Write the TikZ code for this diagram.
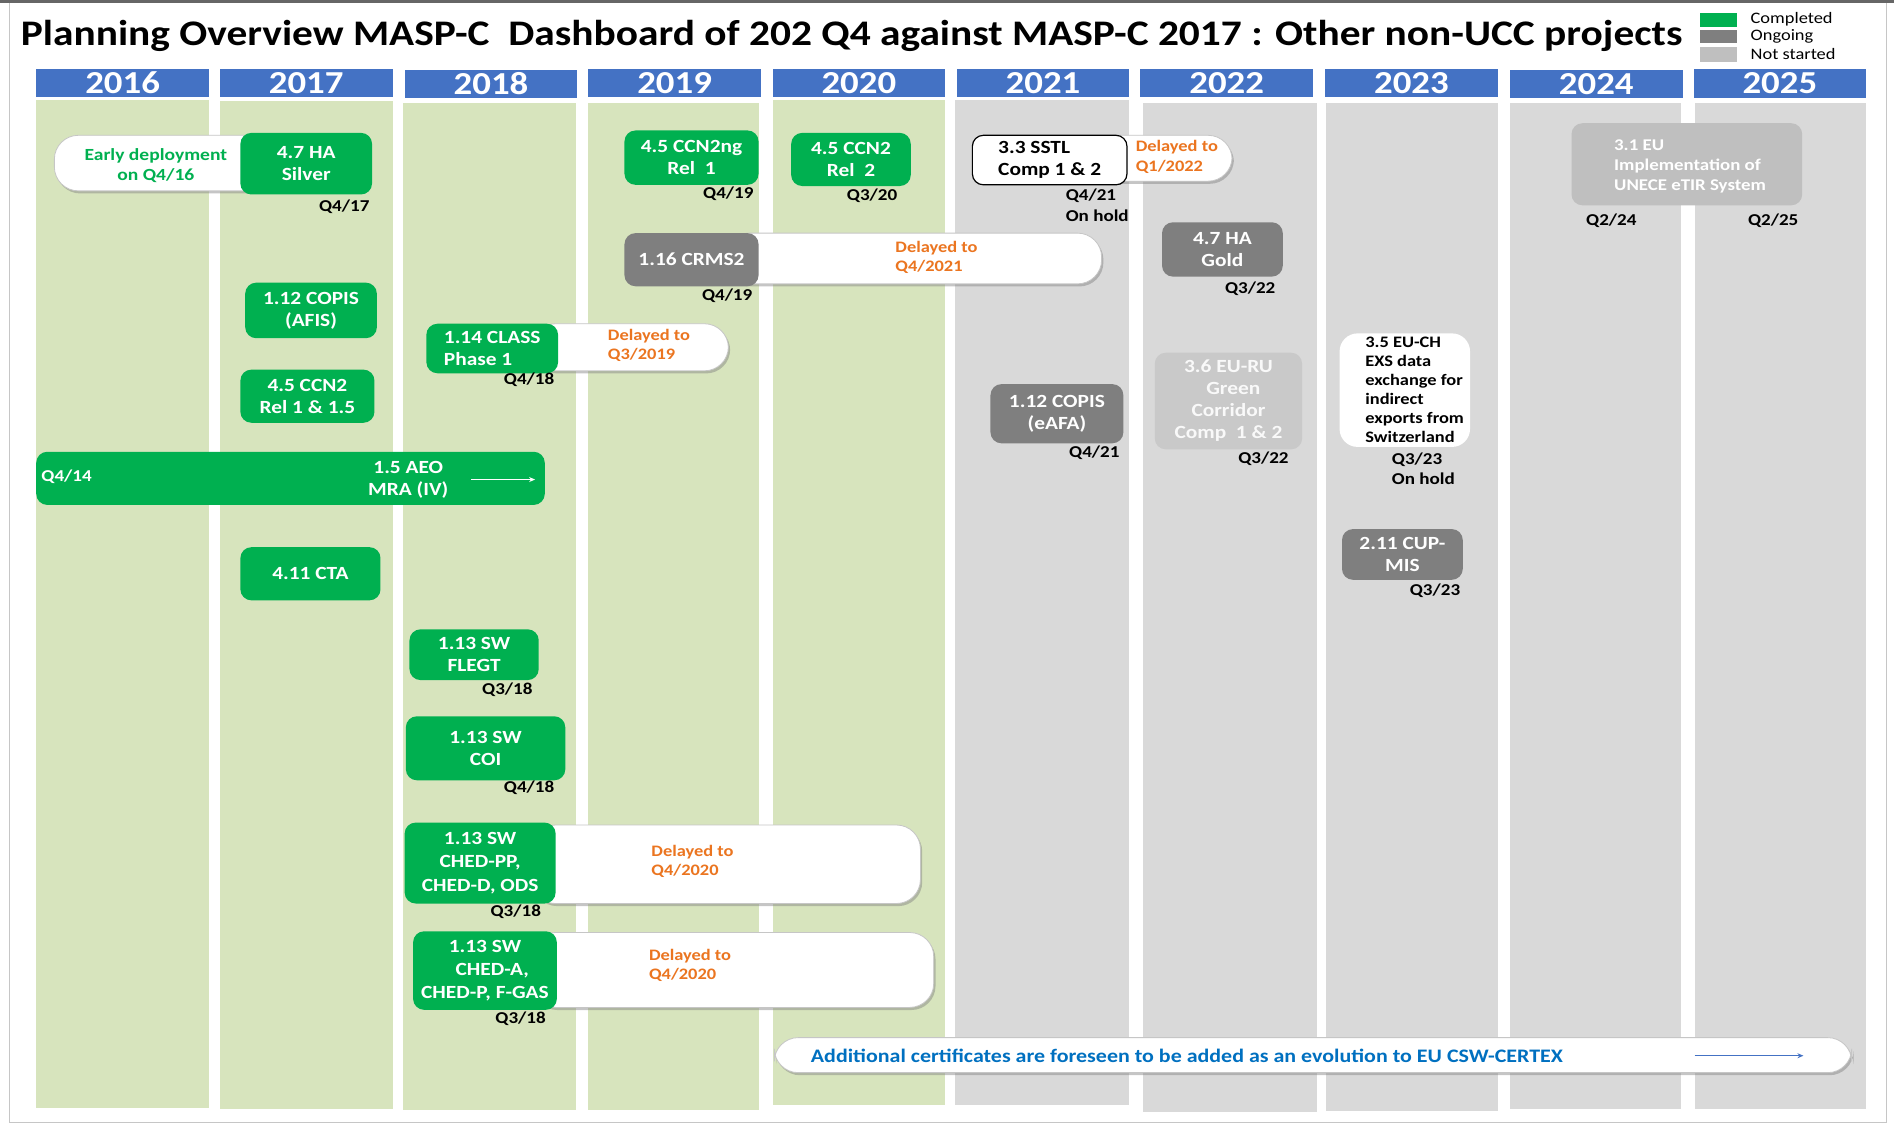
\documentclass[tikz,border=0pt]{standalone}
\usepackage{fontspec}
\setmainfont{Carlito}[FakeStretch=1.15]
\usetikzlibrary{shadows,arrows.meta}
\definecolor{cgreen}{HTML}{00B050}
\definecolor{cdark}{HTML}{7F7F7F}
\definecolor{clight}{HTML}{BFBFBF}
\definecolor{cru}{HTML}{C9C9C9}
\definecolor{colg}{HTML}{D7E4BD}
\definecolor{colgray}{HTML}{D9D9D9}
\definecolor{hblue}{HTML}{4472C4}
\definecolor{corange}{HTML}{EB7520}
\definecolor{tblue}{HTML}{0070C0}
\newcommand\bx[7]{\node[#6, minimum width={(#4-#2)*0.604pt}, minimum height={(#5-#3)*0.604pt}] (#1) at ({(#2+#4)/2},{(#3+#5)/2}) {#7};}
\tikzset{
  base/.style={inner sep=0pt, outer sep=0pt, align=center},
  hdr/.style={base, fill=hblue, text=white, font=\fontsize{16}{18}\selectfont\bfseries},
  done/.style={base, fill=cgreen, text=white, rounded corners=5.5pt, font=\fontsize{9.3}{10.9}\selectfont\bfseries},
  ongo/.style={done, fill=cdark},
  notst/.style={done, fill=clight, text=white},
  pill/.style={base, fill=white, draw=gray!45, line width=0.4pt, rounded corners=12pt,
     drop shadow={shadow xshift=0.9pt, shadow yshift=-1.3pt, opacity=0.45}},
  ql/.style={inner sep=0pt, align=left, font=\fontsize{8.3}{10.3}\selectfont\bfseries},
  dl/.style={inner sep=0pt, anchor=west, align=left, text=corange, font=\fontsize{8}{9.7}\selectfont\bfseries},
  lg/.style={inner sep=0pt, anchor=west, font=\fontsize{8}{9}\selectfont},
}
\begin{document}
\begin{tikzpicture}[x=0.604pt, y=-0.604pt]
\useasboundingbox (0,0) rectangle (1568,932);
\fill[white] (0,0) rectangle (1568,932);
% frame
\draw[gray!45, line width=0.6pt] (8,2) -- (8,929) -- (1562,929) -- (1562,2);
\draw[gray!80!black, line width=1.4pt] (0,1) -- (1568,1);
% column backgrounds
\foreach \a/\b/\c/\d/\col in {30/83/173/917/colg, 182/84/325/918/colg, 334/85/477/919/colg, 487/85/628/919/colg, 640/83/782/915/colg, 791/83/935/915/colgray, 946/85/1090/921/colgray, 1098/85/1240/920/colgray, 1250/85/1392/918/colgray, 1403/85/1545/918/colgray}
  \fill[\col] (\a,\b) rectangle (\c,\d);
% headers
\bx{y16}{30}{57}{173}{80}{hdr}{2016}
\bx{y17}{182}{57}{325}{80}{hdr}{2017}
\bx{y18}{335}{58}{478}{81}{hdr}{2018}
\bx{y19}{487}{57}{630}{80}{hdr}{2019}
\bx{y20}{640}{57}{782}{80}{hdr}{2020}
\bx{y21}{792}{57}{935}{80}{hdr}{2021}
\bx{y22}{944}{57}{1087}{80}{hdr}{2022}
\bx{y23}{1097}{57}{1240}{80}{hdr}{2023}
\bx{y24}{1250}{58}{1393}{81}{hdr}{2024}
\bx{y25}{1402}{57}{1545}{81}{hdr}{2025}
% title
\node[inner sep=0pt, anchor=west, font=\fontsize{18}{20}\selectfont\bfseries] (title) at (17,30) {Planning Overview MASP-C\ \ Dashboard of 202 Q4 against MASP-C 2017 : Other non-UCC projects};
% legend
\bx{lg1}{1407}{11}{1438}{22}{base, fill=cgreen}{}
\bx{lg2}{1407}{25}{1438}{36}{base, fill=cdark}{}
\bx{lg3}{1407}{39}{1438}{51}{base, fill=clight}{}
\node[lg] (lt1) at (1449,16) {Completed};
\node[lg] (lt2) at (1449,30) {Ongoing};
\node[lg] (lt3) at (1449,45) {Not started};
% pills (behind boxes)
\bx{p0}{45}{112}{232}{158}{pill}{}
\bx{p1}{440}{268}{603}{307}{pill}{}
\bx{p2}{440}{683}{762}{748}{pill}{}
\bx{p3}{440}{772}{773}{834}{pill}{}
\bx{p4}{600}{193}{912}{235}{pill}{}
\bx{p5}{905}{112}{1020}{150}{pill}{}
\bx{p6}{641}{859}{1533}{888}{pill}{}
% pill texts
\node[inner sep=0pt, align=center, text=cgreen, font=\fontsize{8.5}{10.3}\selectfont\bfseries] (t0) at (129,137) {Early deployment\\on Q4/16};
\node[dl] (t1) at (503,286) {Delayed to\\Q3/2019};
\node[dl] (t2) at (539,713) {Delayed to\\Q4/2020};
\node[dl] (t3) at (537,799) {Delayed to\\Q4/2020};
\node[dl] (t4) at (741,213) {Delayed to\\Q4/2021};
\node[dl] (t5) at (940,130) {Delayed to\\Q1/2022};
\node[inner sep=0pt, anchor=west, text=tblue, font=\fontsize{9.55}{10.5}\selectfont\bfseries] (t6) at (671,874) {Additional certificates are foreseen to be added as an evolution to EU CSW-CERTEX};
\coordinate (a6s) at (1403,874);
\coordinate (a6e) at (1493,874);
\draw[hblue, line width=0.6pt, -{Stealth[length=3pt,width=2.5pt]}] (a6s) -- (a6e);
% completed boxes
\bx{ha}{199}{110}{308}{161}{done}{4.7 HA\\Silver}
\bx{copis}{203}{234}{312}{280}{done}{1.12 COPIS\\(AFIS)}
\bx{ccn}{199}{306}{310}{350}{done}{4.5 CCN2\\Rel 1 \& 1.5}
\bx{aeo}{30}{374}{451}{418}{done}{}
\node[inner sep=0pt, align=center, text=white, font=\fontsize{9.3}{10.9}\selectfont\bfseries] (aeot) at (338,397) {1.5 AEO\\MRA (IV)};
\node[inner sep=0pt, anchor=west, text=white, font=\fontsize{8.3}{10}\selectfont\bfseries] (aeoq) at (34,395) {Q4/14};
\coordinate (aeos) at (390,397);
\coordinate (aeoe) at (443,397);
\draw[white, line width=0.6pt, -{Stealth[length=3pt,width=2.5pt]}] (aeos) -- (aeoe);
\bx{cta}{199}{453}{315}{497}{done}{4.11 CTA}
\bx{cls}{353}{268}{462}{309}{done, align=left}{1.14 CLASS\\Phase 1}
\bx{flegt}{339}{521}{446}{563}{done}{1.13 SW\\FLEGT}
\bx{coi}{336}{593}{468}{646}{done}{1.13 SW\\COI}
\bx{chedpp}{335}{681}{460}{748}{done, font=\fontsize{9.3}{11.6}\selectfont\bfseries}{1.13 SW\\CHED-PP,\\CHED-D, ODS}
\bx{cheda}{342}{771}{461}{836}{done, font=\fontsize{9.3}{11.6}\selectfont\bfseries}{1.13 SW\\\ \ \ CHED-A,\\CHED-P, F-GAS}
\bx{ccnng}{517}{108}{628}{153}{done}{4.5 CCN2ng\\Rel\ \ 1}
\bx{ccn2}{655}{110}{754}{154}{done}{4.5 CCN2\\Rel\ \ 2}
% ongoing
\bx{crms}{517}{193}{628}{237}{ongo}{1.16 CRMS2}
\bx{sstl}{805}{112}{933}{153}{done, fill=white, draw=black, line width=0.6pt, text=black, align=left}{3.3 SSTL\\Comp 1 \& 2}
\bx{gold}{962}{184}{1062}{229}{ongo}{4.7 HA\\Gold}
\bx{eafa}{820}{318}{930}{367}{ongo}{1.12 COPIS\\(eAFA)}
\bx{cup}{1111}{438}{1211}{480}{ongo}{2.11 CUP-\\MIS}
% not started
\bx{euru}{956}{292}{1078}{372}{done, fill=cru, text=white!95!gray, font=\fontsize{9.3}{11}\selectfont\bfseries}{3.6 EU-RU\\\ \ Green\\Corridor\\Comp\ \ 1 \& 2}
\bx{euch}{1109}{276}{1217}{370}{done, fill=white, text=black, rounded corners=9pt}{}
\node[inner sep=0pt, anchor=north west, align=left, font=\fontsize{8}{9.5}\selectfont\bfseries] (eucht) at (1130,279) {3.5 EU-CH\\EXS data\\exchange for\\indirect\\exports from\\Switzerland};
\bx{etir}{1301}{102}{1492}{170}{notst}{}
\node[inner sep=0pt, anchor=north west, align=left, text=white, font=\fontsize{8.2}{10}\selectfont\bfseries] (etirt) at (1336,115) {3.1 EU\\Implementation of\\UNECE eTIR System};
% quarter labels
\node[ql] (q1) at (285,171) {Q4/17};
\node[ql] (q2) at (438,314) {Q4/18};
\node[ql] (q3) at (420,571) {Q3/18};
\node[ql] (q4) at (438,652) {Q4/18};
\node[ql] (q5) at (427,755) {Q3/18};
\node[ql] (q6) at (431,843) {Q3/18};
\node[ql] (q7) at (603,160) {Q4/19};
\node[ql] (q8) at (722,162) {Q3/20};
\node[ql] (q9) at (602,245) {Q4/19};
\node[ql, anchor=west] (q10) at (882,170) {Q4/21\\On hold};
\node[ql] (q11) at (1035,239) {Q3/22};
\node[ql] (q12) at (906,375) {Q4/21};
\node[ql] (q13) at (1046,380) {Q3/22};
\node[ql, anchor=west] (q14) at (1152,388) {Q3/23\\On hold};
\node[ql] (q15) at (1188,489) {Q3/23};
\node[ql] (q16) at (1334,183) {Q2/24};
\node[ql] (q17) at (1468,183) {Q2/25};
\end{tikzpicture}
\end{document}
